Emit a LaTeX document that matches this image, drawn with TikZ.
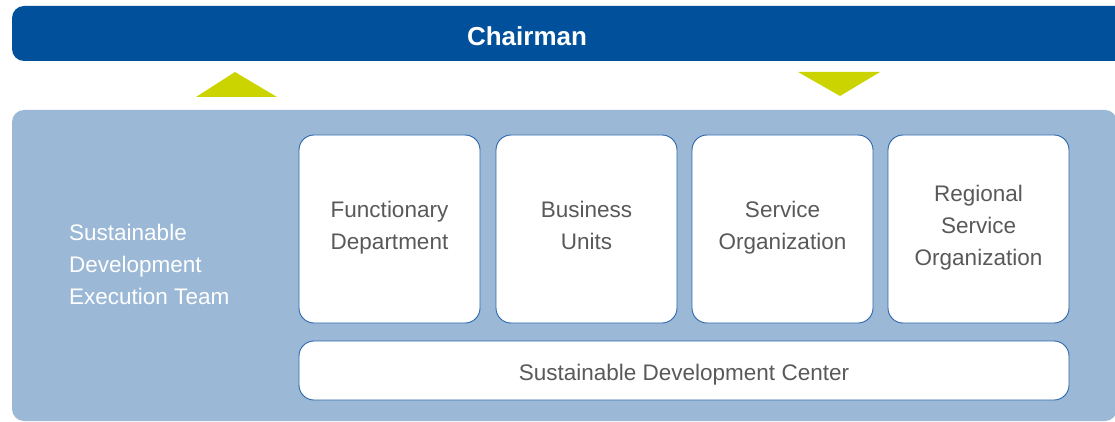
\documentclass[tikz,border=0pt]{standalone}
\usepackage{fontspec}
\setmainfont{Liberation Sans}
\definecolor{chairblue}{RGB}{0,80,155}
\definecolor{panelblue}{RGB}{155,185,214}
\definecolor{edgeblue}{RGB}{42,100,168}
\definecolor{arrowgreen}{RGB}{204,212,0}
\definecolor{textgray}{RGB}{89,89,89}
\begin{document}
\begin{tikzpicture}[x=1pt,y=-1pt,
   unit/.style={draw=edgeblue,line width=0.9pt,fill=white,rounded corners=15pt,
                align=center,text=textgray,inner sep=0pt,
                font=\fontsize{22.5}{32}\selectfont},
   unittext/.style={align=center,text=textgray,font=\fontsize{22.5}{32}\selectfont,yshift=2pt},
   tri/.style={fill=arrowgreen}]
   % Page size
   \useasboundingbox (0,0) rectangle (1115,422);
   \clip (0,0) rectangle (1115,422);
   % Chairman bar
   \fill [chairblue,rounded corners=12pt] (12,6) rectangle (1140,61);
   \node [text=white,font=\bfseries\fontsize{26}{30}\selectfont] (chair) at (527,36) {Chairman};
   % Arrows between the two levels
   \fill [tri] (196,97) -- (235,72) -- (277,97) -- cycle;
   \fill [tri] (798,72) -- (880,72) -- (840,96) -- cycle;
   % Execution team panel
   \fill [panelblue,rounded corners=12pt] (12,110) rectangle (1117,421);
   \node [anchor=west,align=left,text=white,inner sep=0pt,
          font=\fontsize{22.5}{32}\selectfont] (team) at (69,264)
         {Sustainable\\Development\\Execution Team};
   % Units (boxes drawn first, text on top)
   \foreach \name/\cx in {func/389.5,bu/586.5,svc/782.5,rso/978.5}
      \node [unit,minimum width=181pt,minimum height=188pt] (\name) at (\cx,229) {};
   \node [unittext] (functext) at (func.center) {\strut Functionary\\\strut Department};
   \node [unittext] (butext)   at (bu.center)   {\strut Business\\\strut Units};
   \node [unittext] (svctext)  at (svc.center)  {\strut Service\\\strut Organization};
   \node [unittext] (rsotext)  at (rso.center)  {\strut Regional\\\strut Service\\\strut Organization};
   % Center at the bottom
   \node [unit,minimum width=770pt,minimum height=59pt,text height=30pt,text depth=10pt] (sdc) at (684,370.5) {Sustainable Development Center};
\end{tikzpicture}
\end{document}
